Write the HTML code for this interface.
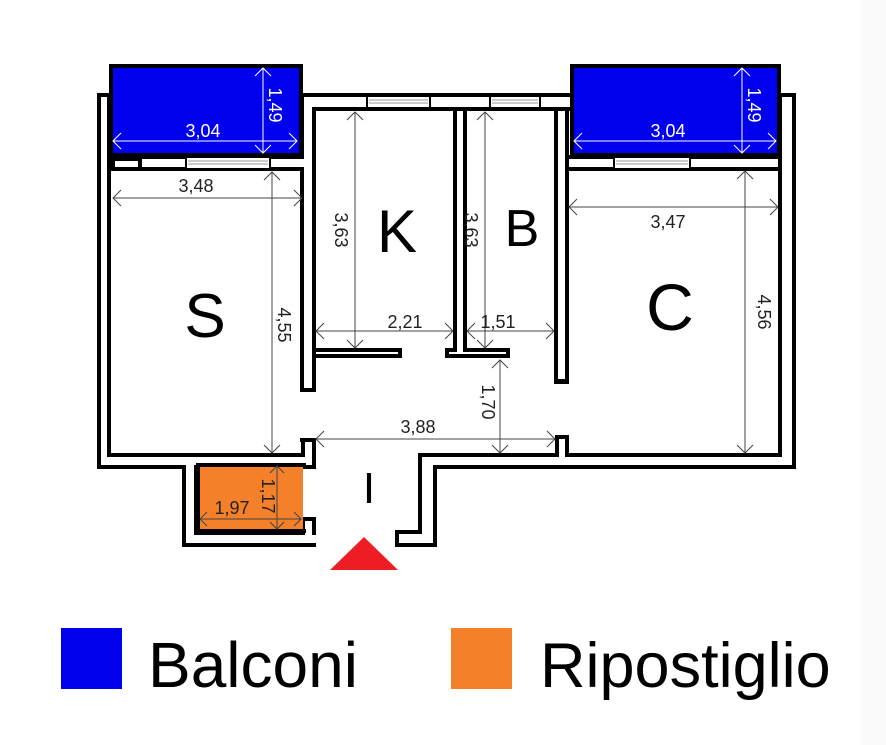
<!DOCTYPE html>
<html><head><meta charset="utf-8"><style>
html,body{margin:0;padding:0;background:#fff;}
svg{display:block;}
text{font-family:"Liberation Sans",sans-serif;}
</style></head><body>
<svg width="886" height="745" viewBox="0 0 886 745" xmlns="http://www.w3.org/2000/svg">
<rect width="886" height="745" fill="#fff"/>
<rect x="862" y="0" width="24" height="745" fill="#fafafa"/>
<!-- walls black -->
<g fill="#000">
<rect x="97" y="93" width="14" height="376"/>
<rect x="97" y="93" width="14" height="14"/>
<rect x="109" y="155" width="205" height="16"/>
<rect x="300" y="93" width="275" height="18"/>
<rect x="300" y="93" width="16" height="299"/>
<rect x="312" y="348" width="90" height="10"/>
<rect x="453" y="107" width="14" height="251"/>
<rect x="445" y="348" width="65" height="10"/>
<rect x="554" y="107" width="15" height="276"/>
<rect x="778" y="93" width="18" height="376"/>
<rect x="778" y="93" width="18" height="14"/>
<rect x="565" y="155" width="217" height="16"/>
<rect x="97" y="453" width="219" height="16"/>
<rect x="301" y="438" width="15" height="31"/>
<rect x="182" y="453" width="16" height="94"/>
<rect x="182" y="531" width="153" height="16"/>
<rect x="301" y="517" width="15" height="30"/>
<rect x="395" y="530" width="42" height="17"/>
<rect x="418" y="453" width="19" height="94"/>
<rect x="418" y="453" width="378" height="16"/>
<rect x="555" y="435" width="14" height="34"/>
</g>
<g fill="#fff">
<rect x="101" y="97" width="6" height="368"/>
<rect x="101" y="97" width="6" height="6"/>
<rect x="113" y="159" width="197" height="8"/>
<rect x="304" y="97" width="267" height="10"/>
<rect x="304" y="97" width="8" height="291"/>
<rect x="316" y="352" width="82" height="2"/>
<rect x="457" y="111" width="6" height="243"/>
<rect x="449" y="352" width="57" height="2"/>
<rect x="558" y="111" width="7" height="268"/>
<rect x="782" y="97" width="10" height="368"/>
<rect x="782" y="97" width="10" height="6"/>
<rect x="569" y="159" width="209" height="8"/>
<rect x="101" y="457" width="211" height="8"/>
<rect x="305" y="442" width="7" height="23"/>
<rect x="186" y="457" width="8" height="86"/>
<rect x="186" y="535" width="145" height="8"/>
<rect x="305" y="521" width="7" height="22"/>
<rect x="399" y="534" width="34" height="9"/>
<rect x="422" y="457" width="11" height="86"/>
<rect x="422" y="457" width="370" height="8"/>
<rect x="559" y="439" width="6" height="26"/>
</g>
<g fill="#fff">
<rect x="111" y="171" width="189" height="282"/>
<rect x="316" y="111" width="137" height="237"/>
<rect x="467" y="111" width="87" height="237"/>
<rect x="569" y="171" width="209" height="282"/>
<rect x="316" y="358" width="238" height="95"/>
</g>
<rect x="299" y="392" width="18" height="46" fill="#fff"/>
<rect x="300" y="388" width="16" height="4" fill="#000"/>
<rect x="300" y="438" width="16" height="4" fill="#000"/>
<rect x="553" y="383" width="17" height="52" fill="#fff"/>
<rect x="554" y="380" width="15" height="4" fill="#000"/>
<rect x="316" y="469" width="79" height="80" fill="#fff"/>
<g fill="#fff" stroke="#000" stroke-width="2">
<rect x="186" y="157" width="84" height="12"/>
<rect x="367" y="96" width="63" height="12"/>
<rect x="490" y="96" width="50" height="12"/>
<rect x="614" y="157" width="76" height="12"/>
</g>
<rect x="111" y="157" width="31" height="14" fill="#000"/>
<rect x="115" y="161" width="23" height="6" fill="#fff"/>
<g stroke="#999" stroke-width="1">
<line x1="188" y1="161" x2="268" y2="161"/><line x1="188" y1="164" x2="268" y2="164"/>
<line x1="369" y1="100" x2="428" y2="100"/><line x1="369" y1="103" x2="428" y2="103"/>
<line x1="492" y1="100" x2="538" y2="100"/><line x1="492" y1="103" x2="538" y2="103"/>
<line x1="616" y1="161" x2="688" y2="161"/><line x1="616" y1="164" x2="688" y2="164"/>
</g>
<rect x="111" y="66" width="190" height="89" fill="#0000ee" stroke="#000" stroke-width="4"/>
<rect x="572" y="66" width="207" height="89" fill="#0000ee" stroke="#000" stroke-width="4"/>
<rect x="198" y="465" width="105" height="66" fill="#f5802a"/>
<rect x="196" y="463" width="4" height="70" fill="#000"/>
<rect x="196" y="463" width="110" height="4" fill="#000"/>
<rect x="196" y="529" width="110" height="4" fill="#000"/>
<g fill="none" stroke-width="1">
<g stroke="#fff">
<path d="M113,141H297M121,133l-8,8l8,8M289,133l8,8l-8,8"/>
<path d="M263,68V153M255,76l8,-8l8,8M255,145l8,8l8,-8"/>
<path d="M574,141H776M582,133l-8,8l8,8M768,133l8,8l-8,8"/>
<path d="M742,68V153M734,76l8,-8l8,8M734,145l8,8l8,-8"/>
</g>
<g stroke="#444">
<path d="M113,198H302M121,190l-8,8l8,8M294,190l8,8l-8,8"/>
<path d="M272,172V453M264,180l8,-8l8,8M264,445l8,8l8,-8"/>
<path d="M355,112V348M347,120l8,-8l8,8M347,340l8,8l8,-8"/>
<path d="M316,331H453M324,323l-8,8l8,8M445,323l8,8l-8,8"/>
<path d="M485,112V348M477,120l8,-8l8,8M477,340l8,8l8,-8"/>
<path d="M467,331H554M475,323l-8,8l8,8M546,323l8,8l-8,8"/>
<path d="M569,207H778M577,199l-8,8l8,8M770,199l8,8l-8,8"/>
<path d="M745,171V453M737,179l8,-8l8,8M737,445l8,8l8,-8"/>
<path d="M500,360V453M492,368l8,-8l8,8M492,445l8,8l8,-8"/>
<path d="M316,439H555M324,431l-8,8l8,8M547,431l8,8l-8,8"/>
<path d="M277,466V529M270,473l7,-7l7,7M270,522l7,7l7,-7"/>
<path d="M200,519H301M207,512l-7,7l7,7M294,512l7,7l-7,7"/>
</g>
</g>
<g font-size="18" fill="#222" text-anchor="middle">
<text x="203" y="137" fill="#fff">3,04</text>
<text x="668" y="137" fill="#fff">3,04</text>
<text transform="translate(269,105) rotate(90)" fill="#fff">1,49</text>
<text transform="translate(748,105) rotate(90)" fill="#fff">1,49</text>
<text x="196" y="192">3,48</text>
<text transform="translate(278,325) rotate(90)">4,55</text>
<text transform="translate(335,230) rotate(90)">3,63</text>
<text transform="translate(465,230) rotate(90)">3,63</text>
<text x="405" y="328">2,21</text>
<text x="498" y="328">1,51</text>
<text x="668" y="228">3,47</text>
<text transform="translate(758,312) rotate(90)">4,56</text>
<text transform="translate(482,402) rotate(90)">1,70</text>
<text x="418" y="433">3,88</text>
<text transform="translate(262,496) rotate(90)">1,17</text>
<text x="232" y="514">1,97</text>
</g>
<g font-size="60" fill="#000" text-anchor="middle">
<text x="397" y="252">K</text>
<text x="522" y="246" font-size="52">B</text>
<text x="205" y="337" font-size="62">S</text>
<text x="670" y="330" font-size="66">C</text>
<text x="369" y="503" font-size="44">I</text>
</g>
<polygon points="330,570 398,570 364,537" fill="#ee1c24"/>
<rect x="61" y="628" width="61" height="61" fill="#0000ee"/>
<text x="148" y="687" font-size="64" fill="#000">Balconi</text>
<rect x="451" y="628" width="61" height="61" fill="#f5802a"/>
<text x="540" y="687" font-size="63" fill="#000">Ripostiglio</text>
</svg>
</body></html>
